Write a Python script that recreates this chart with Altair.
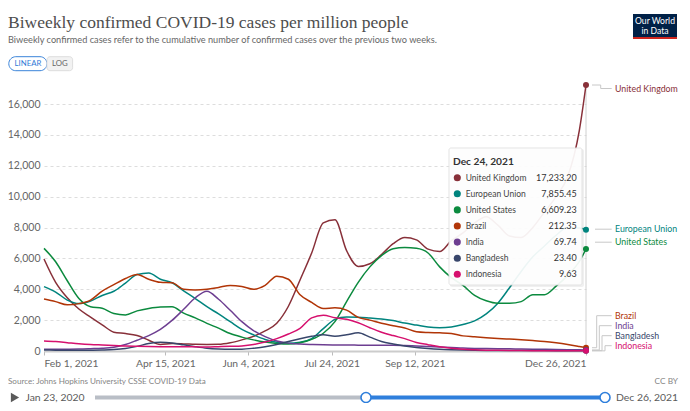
import altair as alt
import pandas as pd

# ---------------- data ----------------
dates = list(pd.date_range("2021-02-01", periods=47, freq="7D")) + [pd.Timestamp("2021-12-24")]

series_names = ["United Kingdom", "European Union", "United States", "Brazil",
                "India", "Bangladesh", "Indonesia"]
series_colors = ["#883039", "#00847E", "#0B8A3E", "#B13507", "#6D3E91", "#38466B", "#D6106E"]

united_kingdom = [5960, 4450, 3450, 2720, 2200, 1700, 1220, 1130, 1000, 700,
                  420, 480, 460, 430, 420, 430, 530, 720, 950, 1300,
                  1800, 2900, 4600, 6350, 8300, 8500, 6500, 5480, 5650, 6250,
                  6950, 7350, 7200, 6600, 6450, 7150, 7650, 8300, 8700, 8150,
                  7450, 7350, 8000, 9000, 10000, 11300, 14300, 17233.20]
european_union = [4170, 3820, 3300, 3070, 3240, 3600, 3870, 4400, 4950, 5050,
                  4650, 4420, 3900, 3400, 2870, 2400, 1900, 1400, 1050, 750,
                  560, 500, 560, 800, 1450, 2050, 2200, 2190, 2140, 2080,
                  1970, 1810, 1680, 1550, 1510, 1560, 1720, 1950, 2400, 3100,
                  4100, 5150, 6100, 6800, 7500, 8000, 7970, 7855.45]
united_states = [6650, 5780, 4550, 3400, 2870, 2770, 2430, 2340, 2600, 2760,
                 2850, 2860, 2450, 2150, 1790, 1480, 1130, 900, 720, 580,
                 490, 450, 530, 750, 1150, 1900, 3200, 4450, 5450, 6180,
                 6620, 6700, 6650, 6350, 5450, 4750, 4250, 3600, 3250, 3090,
                 3090, 3200, 3650, 3650, 4200, 4900, 5800, 6609.23]
brazil = [3370, 3200, 2990, 3070, 3300, 3880, 4300, 4700, 4960, 4650,
          4450, 4420, 4000, 3950, 4000, 4120, 4250, 4180, 4000, 4250,
          4850, 4650, 3650, 3150, 2750, 2800, 2650, 2180, 2000, 1800,
          1640, 1490, 1250, 1200, 1180, 1140, 980, 920, 860, 810,
          770, 730, 680, 620, 530, 420, 290, 212.35]
india = [110, 110, 115, 125, 150, 180, 250, 420, 700, 1000,
         1400, 1980, 2700, 3450, 3870, 3350, 2640, 1900, 1320, 930,
         650, 510, 450, 420, 400, 390, 390, 380, 370, 370,
         370, 350, 320, 290, 260, 230, 190, 170, 160, 150,
         140, 130, 120, 110, 100, 85, 75, 69.74]
bangladesh = [60, 55, 50, 50, 55, 65, 90, 160, 300, 480,
              560, 520, 400, 280, 180, 130, 110, 120, 180, 270,
              420, 620, 800, 950, 1050, 950, 1050, 1180, 900, 620,
              460, 330, 230, 160, 110, 80, 60, 45, 35, 30,
              28, 26, 25, 25, 24, 24, 23, 23.40]
indonesia = [650, 610, 540, 470, 420, 390, 360, 320, 300, 285,
             280, 280, 280, 270, 260, 280, 300, 330, 420, 580,
             800, 1100, 1470, 2150, 2320, 2150, 2050, 1830, 1510, 1220,
             1000, 800, 550, 410, 280, 180, 110, 75, 55, 42,
             32, 26, 21, 17, 15, 12, 10, 9.63]
series_values = [united_kingdom, european_union, united_states, brazil,
                 india, bangladesh, indonesia]

x_tick_dates = [(2021, 2, 1), (2021, 4, 15), (2021, 6, 4), (2021, 7, 24),
                (2021, 9, 12), (2021, 12, 24)]
y_ticks = [0, 2000, 4000, 6000, 8000, 10000, 12000, 14000, 16000]

title_text = "Biweekly confirmed COVID-19 cases per million people"
subtitle_text = ("Biweekly confirmed cases refer to the cumulative number of confirmed "
                 "cases over the previous two weeks.")
source_text = "Source: Johns Hopkins University CSSE COVID-19 Data"
hover_label = "Dec 24, 2021"
range_start_label = "Jan 23, 2020"
range_end_label = "Dec 26, 2021"

# ---------------- layout (pixels, plot-area coordinates) ----------------
W, H = 542, 266
YMAX = max(united_kingdom)
FONT = "Lato"
label_py = [3.5, 144.2, 157.2, 230.7, 240.7, 250.7, 260.7]
elbow_px = [556.7, 551, 551, 552.7, 555.3, 558, 561]
TL_Y = 312.5  # timeline row

rows = []
for name, vals in zip(series_names, series_values):
    for d, v in zip(dates, vals):
        rows.append({"date": d, "series": name, "value": v})
df = pd.DataFrame(rows)
last_date = dates[-1]
df_last = df[df["date"] == last_date].copy()

color = alt.Color("series:N", scale=alt.Scale(domain=series_names, range=series_colors), legend=None)

x_scale = alt.Scale(domain=[alt.DateTime(year=2021, month=2, date=1),
                            alt.DateTime(year=2021, month=12, date=24)], nice=False)
y_scale = alt.Scale(domain=[0, YMAX], nice=False, zero=True)

x_axis = alt.Axis(
    title=None,
    values=[alt.DateTime(year=y, month=m, date=d) for (y, m, d) in x_tick_dates],
    labelExpr="(month(datum.value) == 11 && date(datum.value) == 24) ? '" + range_end_label
              + "' : timeFormat(datum.value, '%b %-d, %Y')",
    labelFlush=True, labelOverlap=False, labelColor="#666666", labelFont=FONT,
    labelFontSize=10.3, tickColor="#bbbbbb", tickSize=4, domainColor="#cccccc",
    domainWidth=2, grid=False, labelPadding=3,
)
y_axis = alt.Axis(
    title=None, values=y_ticks, format=",d", domain=False, ticks=False,
    labelOverlap=False, labelPadding=4, grid=True, gridDash=[3, 3],
    gridColor="#dddddd", labelColor="#666666", labelFont=FONT, labelFontSize=10.5,
)

X = alt.X("date:T", scale=x_scale, axis=x_axis)
Y = alt.Y("value:Q", scale=y_scale, axis=y_axis)

hover_rule = alt.Chart(pd.DataFrame({"date": [last_date]})).mark_rule(
    color="#d0d0d0", strokeWidth=1
).encode(x=X)

lines = alt.Chart(df).mark_line(strokeWidth=1.5, interpolate="monotone").encode(
    x=X, y=Y, color=color,
)
end_points = alt.Chart(df_last).mark_circle(size=36, opacity=1).encode(
    x=X, y=Y, color=color,
)
data_layer = alt.layer(hover_rule, lines, end_points)

one = pd.DataFrame({"k": [0]})


def text(s, x, y, size, col, font=FONT, weight="normal", align="left", baseline="middle"):
    return alt.Chart(one).mark_text(
        text=s, fontSize=size, color=col, font=font, fontWeight=weight,
        align=align, baseline=baseline,
    ).encode(x=alt.value(x), y=alt.value(y))


def rect(x1, x2, y1, y2, fill, stroke=None, opacity=1.0, radius=0):
    kw = dict(fill=fill, opacity=opacity, cornerRadius=radius)
    if stroke:
        kw.update(stroke=stroke, strokeWidth=1)
    return alt.Chart(one).mark_rect(**kw).encode(
        x=alt.value(x1), x2=alt.value(x2), y=alt.value(y1), y2=alt.value(y2))


# --- line labels with connectors ---
last_vals = [vals[-1] for vals in series_values]
conn_rows = []
for i, name in enumerate(series_names):
    my = H * (1 - last_vals[i] / YMAX)
    ly = label_py[i]
    ex = elbow_px[i]
    if abs(my - ly) > 2.5 and name != "United States":
        pts = [(548, my), (ex, my), (ex, ly), (567.7, ly)]
    else:
        pts = [(551, ly), (567.7, ly)]
    for j, (cx, cy) in enumerate(pts):
        conn_rows.append({"series": name, "o": j, "cx": cx, "cy": cy})
conn_df = pd.DataFrame(conn_rows)
connectors = alt.Chart(conn_df).mark_line(color="#c8c8c8", strokeWidth=1).encode(
    x=alt.X("cx:Q", scale=None, axis=None),
    y=alt.Y("cy:Q", scale=None, axis=None),
    detail="series:N", order="o:Q",
)
lab_df = pd.DataFrame({"series": series_names, "ly": label_py})
labels = alt.Chart(lab_df).mark_text(align="left", baseline="middle", font=FONT, fontSize=8.8).encode(
    x=alt.value(571), y=alt.Y("ly:Q", scale=None, axis=None), text="series:N", color=color,
)

# --- tooltip ---
tip_df = pd.DataFrame({"series": series_names, "value": last_vals,
                       "ty": [92.7 + 16.1 * i for i in range(len(series_names))]})
tip_shadow = rect(406, 540, 64, 202, "#000000", opacity=0.06, radius=2)
tip_box = rect(405, 538, 63, 200, "#ffffff", stroke="#e2e2e2", opacity=0.93, radius=2)
tip_head = text(hover_label, 409, 77, 10.2, "#333333", weight="bold")
tip_dots = alt.Chart(tip_df).mark_circle(size=50, opacity=1).encode(
    x=alt.value(413.3), y=alt.Y("ty:Q", scale=None, axis=None), color=color)
tip_names = alt.Chart(tip_df).mark_text(align="left", baseline="middle", font=FONT,
                                        fontSize=8.5, color="#444444").encode(
    x=alt.value(421.7), y=alt.Y("ty:Q", scale=None, axis=None), text="series:N")
tip_vals = alt.Chart(tip_df).mark_text(align="right", baseline="middle", font=FONT,
                                       fontSize=9.0, color="#333333").encode(
    x=alt.value(532.7), y=alt.Y("ty:Q", scale=None, axis=None),
    text=alt.Text("value:Q", format=",.2f"))

# --- header ---
title = text(title_text, -36, -57.5, 17.5, "#4d4d4d", font="Liberation Serif", baseline="alphabetic")
subtitle = text(subtitle_text, -36, -45, 9.2, "#666666")
btn_lin = rect(-35.2, 3, -28.3, -14.3, "#ffffff", stroke="#3b84d9", radius=7)
btn_log = rect(3, 28.6, -28.3, -14.3, "#f2f2f2", stroke="#dddddd", radius=3)
btn_lin_t = text("LINEAR", -16, -21.3, 7.8, "#2f7ad6", align="center")
btn_log_t = text("LOG", 15.8, -21.3, 7.8, "#666666", align="center")
logo_box = rect(589, 633, -71, -48, "#002147")
logo_bar = rect(589, 633, -48, -46, "#ce261e")
logo_t1 = text("Our World", 611, -64, 8.6, "#ffffff", align="center")
logo_t2 = text("in Data", 611, -54.5, 8.6, "#ffffff", align="center")

# --- footer ---
src = text(source_text, -36, 297, 8.1, "#858585")
ccby = text("CC BY", 634, 297, 8.3, "#858585", align="right")
play = alt.Chart(one).mark_point(shape="triangle-right", filled=True, size=90, color="#5a5a5a",
                                 opacity=1).encode(x=alt.value(-29), y=alt.value(TL_Y))
start_lbl = text(range_start_label, -18.5, TL_Y, 10.4, "#5a5a5a")
end_lbl = text(range_end_label, 572, TL_Y, 10.4, "#5a5a5a")
track_grey = alt.Chart(one).mark_rule(color="#b9bec6", strokeWidth=4).encode(
    x=alt.value(51), x2=alt.value(322), y=alt.value(TL_Y))
track_blue = alt.Chart(one).mark_rule(color="#2f7fdc", strokeWidth=4).encode(
    x=alt.value(322), x2=alt.value(561), y=alt.value(TL_Y))
knob1 = alt.Chart(one).mark_point(shape="circle", filled=True, fill="#ffffff", stroke="#2f7fdc",
                                  strokeWidth=1.6, size=100, opacity=1).encode(
    x=alt.value(322), y=alt.value(TL_Y))
knob2 = alt.Chart(one).mark_point(shape="circle", filled=True, fill="#ffffff", stroke="#2f7fdc",
                                  strokeWidth=1.6, size=100, opacity=1).encode(
    x=alt.value(561), y=alt.value(TL_Y))

chart = alt.layer(
    data_layer, connectors, labels,
    tip_shadow, tip_box, tip_head, tip_dots, tip_names, tip_vals,
    title, subtitle, btn_lin, btn_log, btn_lin_t, btn_log_t,
    logo_box, logo_bar, logo_t1, logo_t2,
    src, ccby, play, start_lbl, end_lbl, track_grey, track_blue, knob1, knob2,
).resolve_scale(x="independent", y="independent").properties(
    width=W, height=H,
    padding={"left": 36, "top": 77, "right": 96, "bottom": 52},
    autosize=alt.AutoSizeParams(type="none"),
    background="#ffffff",
).configure_view(stroke=None)

chart.save("out.html", embed_options={"renderer": "svg", "actions": False})
